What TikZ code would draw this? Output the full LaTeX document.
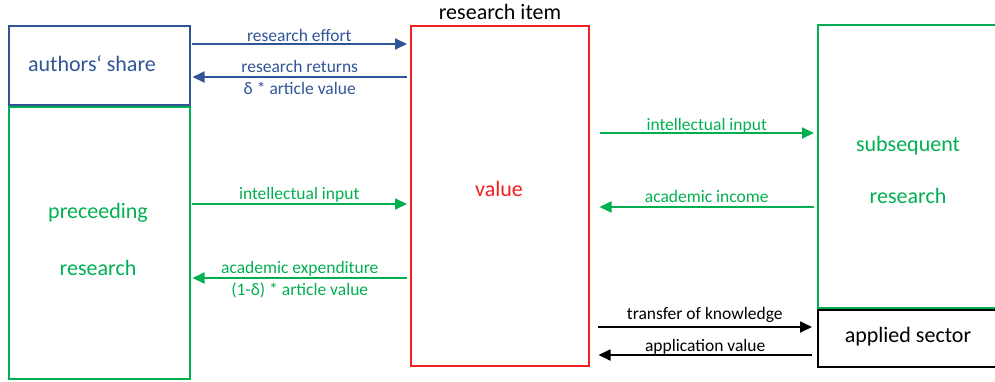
\documentclass[tikz,border=0pt]{standalone}
\usepackage{fontspec}
\setmainfont{Carlito}
\usetikzlibrary{arrows.meta,calc}
\definecolor{cblue}{RGB}{47,85,151}
\definecolor{cgreen}{RGB}{0,176,80}
\definecolor{cred}{RGB}{240,30,30}
\tikzset{
  box/.style={draw, line width=1.5pt, inner sep=0pt, anchor=north west},
  arr/.style={line width=1.8pt, -{Triangle[length=12pt,width=11pt]}},
  lab/.style={font=\fontsize{17.5}{20}\selectfont, inner sep=0pt, midway, anchor=base},
  big/.style={font=\fontsize{22}{26}\selectfont, inner sep=0pt},
}
\begin{document}
\begin{tikzpicture}[x=1pt,y=-1pt]
\useasboundingbox (0,0) rectangle (995,381);
% boxes
\node[box, cblue, minimum width=181pt, minimum height=79pt] (auth) at (8,25) {};
\node[big, cblue] (authT) at (92,64) {authors‘ share};
\node[box, cgreen, minimum width=181pt, minimum height=272pt] (prec) at (8,106) {};
\node[big, cgreen] (precA) at (98,213) {preceeding};
\node[big, cgreen] (precB) at (98,268) {research};
\node[box, cred, minimum width=178pt, minimum height=340pt] (item) at (410,25) {};
\node[big, black] (itemT) at (500,12) {research item};
\node[big, cred] (val) at (499,189) {value};
\node[box, cgreen, minimum width=190pt, minimum height=283pt] (subs) at (817,24) {};
\node[big, cgreen] (subsA) at (908,146) {subsequent};
\node[big, cgreen] (subsB) at (908,196) {research};
\node[box, black, minimum width=190pt, minimum height=57pt] (appl) at (817,309) {};
\node[big, black] (applT) at (908,337) {applied sector};
% left arrows (blue)
\draw[arr, cblue] ($(auth.east |- 0,44)+(1,0)$) -- ($(item.west |- 0,44)+(-3,0)$)
  node[lab, yshift=3pt] (l1) {research effort};
\draw[arr, cblue] ($(item.west |- 0,77)+(-3,0)$) -- ($(auth.east |- 0,77)+(2,0)$)
  node[lab, yshift=4.5pt] (l2) {research returns}
  node[lab, yshift=-17pt] (l2b) {δ * article value};
% left arrows (green)
\draw[arr, cgreen] ($(prec.east |- 0,204)+(1,0)$) -- ($(item.west |- 0,204)+(-3,0)$)
  node[lab, yshift=4.5pt] (l3) {intellectual input};
\draw[arr, cgreen] ($(item.west |- 0,278)+(-3,0)$) -- ($(prec.east |- 0,278)+(2,0)$)
  node[lab, yshift=4.5pt] (l4) {academic expenditure}
  node[lab, yshift=-17.5pt] (l4b) {(1-δ) * article value};
% right arrows (green)
\draw[arr, cgreen] ($(item.east |- 0,133)+(10,0)$) -- ($(subs.west |- 0,133)+(-3,0)$)
  node[lab, yshift=3pt] (r1) {intellectual input};
\draw[arr, cgreen] ($(subs.west |- 0,207)+(-3,0)$) -- ($(item.east |- 0,207)+(10,0)$)
  node[lab, yshift=4.5pt] (r2) {academic income};
% right arrows (black)
\draw[arr, black] ($(item.east |- 0,327)+(8,0)$) -- ($(appl.west |- 0,327)+(-5,0)$)
  node[lab, yshift=7.5pt] (r3) {transfer of knowledge};
\draw[arr, black] ($(appl.west |- 0,355)+(-5,0)$) -- ($(item.east |- 0,355)+(9,0)$)
  node[lab, yshift=4pt] (r4) {application value};
\end{tikzpicture}
\end{document}
